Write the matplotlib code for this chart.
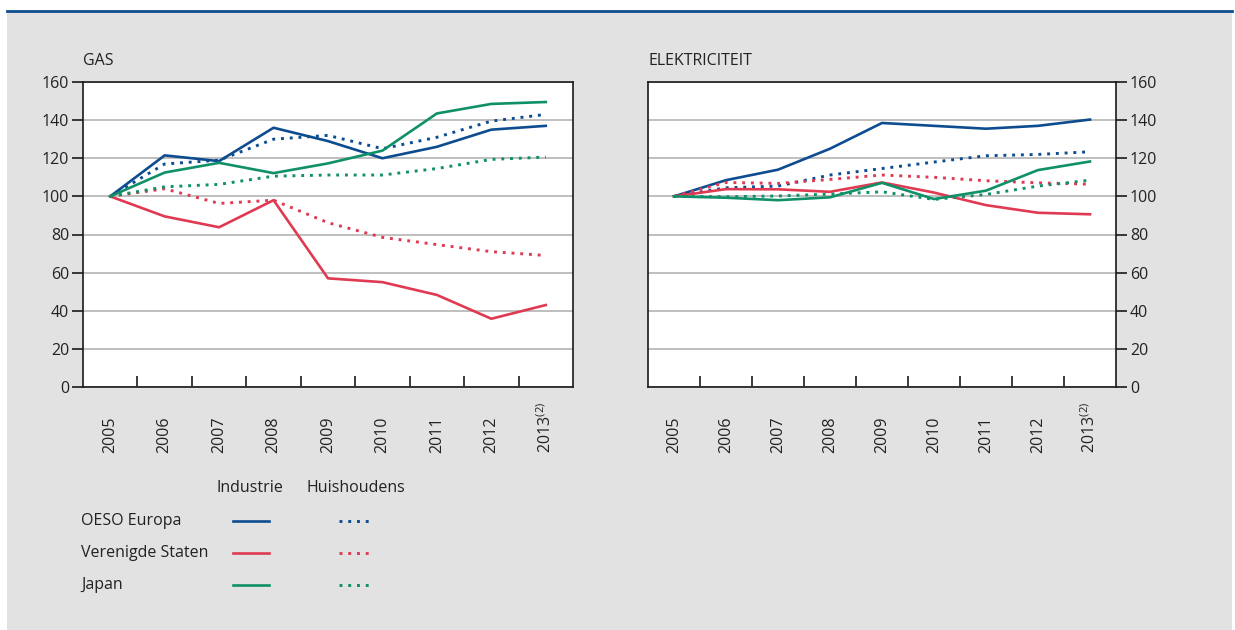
import numpy as np
import matplotlib
matplotlib.use('Agg')
import matplotlib.pyplot as plt
from matplotlib.patches import Rectangle
from matplotlib.lines import Line2D
import matplotlib.transforms as mtransforms

plt.rcParams['font.family'] = ['Open Sans', 'DejaVu Sans']
plt.rcParams['mathtext.fontset'] = 'custom'
plt.rcParams['mathtext.rm'] = 'Open Sans'
plt.rcParams['mathtext.it'] = 'Open Sans'

years = ['2005', '2006', '2007', '2008', '2009', '2010', '2011', '2012', '2013$^{(2)}$']
yticks = [0, 20, 40, 60, 80, 100, 120, 140, 160]

# GAS
gas_eu_ind = [100, 121.5, 118.5, 136, 129, 120, 126, 135, 137]
gas_eu_hh = [100, 117, 119, 130, 132, 125, 131, 139.5, 143]
gas_us_ind = [100, 89.5, 83.8, 98, 57, 55, 48.3, 35.8, 43]
gas_us_hh = [100, 104, 96.3, 98, 86.2, 78.5, 74.7, 71, 69]
gas_jp_ind = [100, 112.5, 117.6, 112.2, 117.3, 124, 143.5, 148.5, 149.5]
gas_jp_hh = [100, 105, 106.3, 110.6, 111.2, 111.2, 114.6, 119.4, 120.6]

# ELEKTRICITEIT
el_eu_ind = [100, 108.5, 114, 125, 138.5, 137, 135.5, 137, 140.3]
el_eu_hh = [100, 104.5, 105.4, 111.2, 114.6, 118, 121.3, 122, 123.4]
el_us_ind = [100, 103.8, 103.7, 102.4, 107.3, 102, 95.4, 91.4, 90.6]
el_us_hh = [100, 107.3, 106.8, 108.9, 111.2, 110, 108.2, 107.1, 106.4]
el_jp_ind = [100, 99.3, 98, 99.5, 107.1, 98.6, 103, 113.8, 118.3]
el_jp_hh = [100, 99.8, 100.2, 101.2, 102.4, 98.4, 101, 105.4, 108.5]

regions = ['OESO Europa', 'Verenigde Staten', 'Japan']
colors = ['#0d4c8f', '#e03a52', '#0f9068']
bg = '#e2e2e2'
fs = 11.5

W, H = 1235, 630
fig = plt.figure(figsize=(W / 100, H / 100), dpi=100)
fig.patch.set_facecolor('white')
fig.patches.append(Rectangle((7 / W, 0), 1225 / W, 1 - 12 / H, transform=fig.transFigure,
                             facecolor=bg, edgecolor='none', zorder=-10))
fig.add_artist(Line2D([7 / W, 1232 / W], [1 - 10.5 / H, 1 - 10.5 / H], transform=fig.transFigure,
                      color='#0d4c8f', linewidth=2))

dot = (0, (1, 2))


def draw_panel(rect, title, ind, hh, right):
    ax = fig.add_axes(rect)
    ax.set_facecolor('white')
    x = np.arange(len(years))
    for i in range(3):
        ax.plot(x, ind[i], color=colors[i], linewidth=1.9, zorder=3)
        ax.plot(x, hh[i], color=colors[i], linewidth=2.1, linestyle=dot, zorder=3)
    ax.set_xlim(-0.5, len(years) - 0.5)
    ax.set_ylim(0, 160)
    ax.set_yticks(yticks)
    ax.yaxis.grid(True, color='#b4b4b4', linewidth=1.2)
    ax.set_axisbelow(True)
    for s in ax.spines.values():
        s.set_linewidth(1.2)
        s.set_color('#1a1a1a')
    ax.set_xticks(x)
    ax.set_xticklabels([])
    ax.tick_params(axis='x', which='major', length=0)
    ax.set_xticks(np.arange(0.5, len(years) - 1, 1), minor=True)
    ax.tick_params(axis='x', which='minor', direction='in', length=8, width=1.2, color='#1a1a1a')
    if right:
        ax.yaxis.tick_right()
    ax.tick_params(axis='y', length=8, width=1.2, pad=2, labelsize=fs, color='#1a1a1a',
                   labelcolor='#222222')
    trans = mtransforms.blended_transform_factory(ax.transData, ax.transAxes)
    for xi, lab in zip(x, years):
        ax.text(xi, -0.216, lab, transform=trans, rotation=90, ha='center', va='bottom',
                fontsize=fs, color='#222222')
    ax.text(0, 1.07, title, transform=ax.transAxes, ha='left', va='center',
            fontsize=fs, color='#222222')
    return ax


draw_panel([83 / W, 1 - 387 / H, 490 / W, 305 / H], 'GAS',
           [gas_eu_ind, gas_us_ind, gas_jp_ind], [gas_eu_hh, gas_us_hh, gas_jp_hh], False)
draw_panel([648 / W, 1 - 387 / H, 468 / W, 305 / H], 'ELEKTRICITEIT',
           [el_eu_ind, el_us_ind, el_jp_ind], [el_eu_hh, el_us_hh, el_jp_hh], True)

# legend
lg = fig.add_axes([0, 0, 1, 1], facecolor='none')
lg.set_xlim(0, W)
lg.set_ylim(H, 0)
lg.axis('off')
lg.text(250, 488, 'Industrie', ha='center', va='center', fontsize=fs, color='#222222')
lg.text(356, 488, 'Huishoudens', ha='center', va='center', fontsize=fs, color='#222222')
for i, name in enumerate(regions):
    yy = 521 + i * 32
    lg.text(81, yy, name, ha='left', va='center', fontsize=fs, color='#222222')
    lg.plot([233, 269], [yy, yy], color=colors[i], linewidth=1.9)
    lg.plot([339, 374], [yy, yy], color=colors[i], linewidth=2.1, linestyle=dot)

fig.savefig('out.png', dpi=100, facecolor=fig.get_facecolor())
